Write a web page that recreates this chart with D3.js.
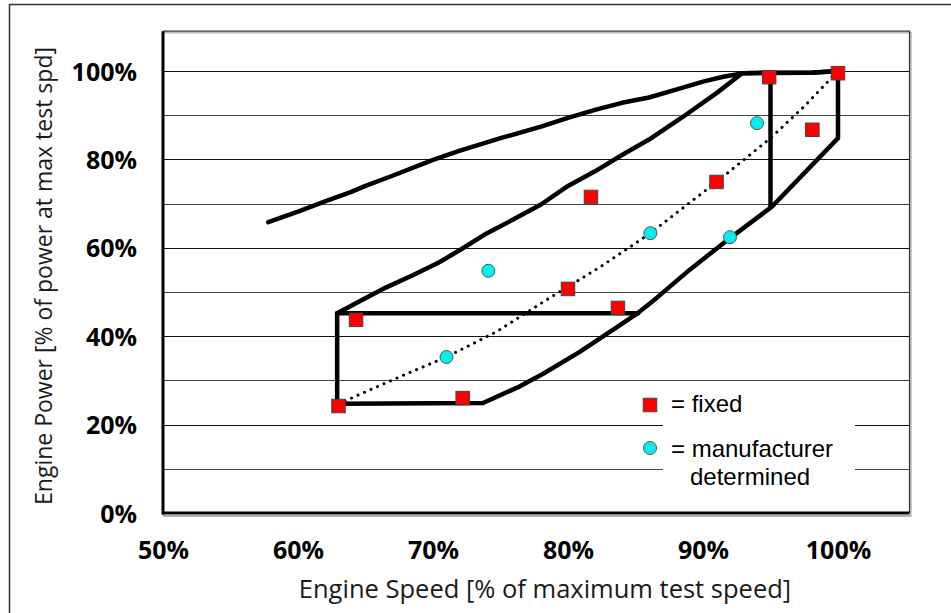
<!DOCTYPE html>
<html>
<head>
<meta charset="utf-8">
<script src="https://cdn.jsdelivr.net/npm/d3@7"></script>
<style>
  html, body { margin: 0; padding: 0; background: #fff; }
  svg { display: block; }
</style>
</head>
<body>
<svg id="chart" width="951" height="613"></svg>
<script>
// values in percent
const fixedSpeed = [63.0, 64.3, 72.2, 80.0, 81.7, 83.7, 91.0, 94.9, 98.1, 100.0]
const fixedPower = [24.2, 43.7, 26.0, 50.7, 71.5, 46.4, 74.9, 98.6, 86.7, 99.5]

const mfrSpeed = [71.0, 74.1, 86.1, 92.0, 94.0]
const mfrPower = [35.3, 54.8, 63.3, 62.4, 88.2]

// maximum power curve
const maxSpeed = [57.8, 60.1, 62.0, 63.9, 65.0, 67.0, 70.0, 72.0, 75.0, 78.0, 80.0, 82.0, 84.0, 86.0, 88.0, 90.0, 91.5, 93.0, 98.0, 100.0]
const maxPower = [65.8, 68.3, 70.5, 72.6, 74.0, 76.3, 79.9, 82.0, 84.8, 87.4, 89.4, 91.2, 92.8, 94.0, 95.8, 97.6, 98.7, 99.5, 99.6, 100.0]

// outline of the test region
const regionSpeed = [62.9, 62.9, 64.5, 66.5, 68.5, 70.5, 72.0, 74.0, 76.0, 78.0, 80.0, 82.0, 84.0, 86.0, 88.5, 91.0, 92.9, 95.0, 98.0, 100.0,
  100.0, 95.1, 92.0, 89.0, 86.5, 85.2, 83.6, 80.9, 78.1, 76.4, 73.7, 62.9]
const regionPower = [24.7, 45.2, 47.8, 51.0, 53.8, 56.8, 59.5, 63.3, 66.5, 69.8, 74.0, 77.3, 81.0, 84.5, 89.6, 95.0, 99.5, 99.6, 99.6, 100.0,
  84.8, 69.3, 62.2, 55.0, 48.5, 45.3, 42.0, 36.5, 31.4, 28.6, 24.9, 24.7]

// inner split lines of the region
const splitH = { speed: [62.9, 85.2], power: [45.2, 45.2] }
const splitV = { speed: [95.0, 95.0], power: [99.6, 69.3] }

// dotted centre line
const diagSpeed = [63.0, 64.1, 67.3, 71.0, 74.7, 78.4, 82.4, 84.6, 86.1, 88.0, 91.0, 95.0, 97.5, 100.0]
const diagPower = [24.7, 26.2, 30.5, 35.3, 41.0, 48.2, 55.7, 60.2, 63.3, 67.8, 74.9, 84.8, 92.0, 100.0]

const xTicks = [50, 60, 70, 80, 90, 100]
const yTicks = [0, 20, 40, 60, 80, 100]
const gridTicks = [10, 20, 30, 40, 50, 60, 70, 80, 90, 100]

const legendItems = ['= fixed', '= manufacturer']

/****************************************************************
    Layout
/****************************************************************/
const svg = d3.select('#chart')

const x = d3.scaleLinear().domain([50, 100]).range([163, 838])
const y = d3.scaleLinear().domain([0, 100]).range([513, 71])

const plotLeft = x(50)
const plotRight = x(105.3)
const plotTop = y(109)
const plotBottom = y(0)

const pct = d => d + '%'
const tickFont = '"Open Sans", "DejaVu Sans", sans-serif'
const titleFont = '"Open Sans", "DejaVu Sans", sans-serif'
const legendFont = '"Liberation Sans", Arial, sans-serif'

// outer frame of the figure
svg.append('rect')
  .attr('x', 9.5).attr('y', 4.5)
  .attr('width', 1000).attr('height', 1000)
  .attr('fill', 'none').attr('stroke', '#333').attr('stroke-width', 1.5)

// plot border (top / right) with light shadow
svg.append('path')
  .attr('d', `M${plotLeft},${plotTop + 1.5}H${plotRight + 1.5}V${plotBottom + 3}`)
  .attr('fill', 'none').attr('stroke', '#bbb').attr('stroke-width', 1.5)
svg.append('path')
  .attr('d', `M${plotLeft},${plotTop}H${plotRight}V${plotBottom}`)
  .attr('fill', 'none').attr('stroke', '#333').attr('stroke-width', 1.3)

// horizontal gridlines
svg.append('g')
  .selectAll('line')
  .data(gridTicks)
  .join('line')
  .attr('x1', plotLeft).attr('x2', plotRight)
  .attr('y1', d => Math.round(y(d)) + 0.5).attr('y2', d => Math.round(y(d)) + 0.5)
  .attr('stroke', (d, i) => i % 2 ? '#111' : '#444')
  .attr('stroke-width', 1.2)

// white box behind the legend text
svg.append('rect')
  .attr('x', 663).attr('y', 390)
  .attr('width', 192).attr('height', 108)
  .attr('fill', '#fff')

// y axis
const yAxis = svg.append('g')
  .attr('transform', `translate(${plotLeft},0)`)
  .call(d3.axisLeft(y).tickValues(yTicks).tickFormat(pct).tickSize(0).tickPadding(26))
yAxis.select('.domain').remove()
yAxis.selectAll('text')
  .attr('dy', '0.36em')
  .style('font-family', tickFont).style('font-weight', 700).style('font-size', '25px')
  .attr('fill', '#000')

// x axis
const xAxis = svg.append('g')
  .attr('transform', `translate(0,${plotBottom})`)
  .call(d3.axisBottom(x).tickValues(xTicks).tickFormat(pct).tickSize(0).tickPadding(28))
xAxis.select('.domain').remove()
xAxis.selectAll('text')
  .style('font-family', tickFont).style('font-weight', 700).style('font-size', '25px')
  .attr('fill', '#000')

// axis lines
svg.append('line')
  .attr('x1', plotLeft).attr('x2', plotRight + 1.5)
  .attr('y1', plotBottom + 3).attr('y2', plotBottom + 3)
  .attr('stroke', '#999').attr('stroke-width', 1.5)
svg.append('line')
  .attr('x1', plotLeft - 1).attr('x2', plotRight)
  .attr('y1', plotBottom).attr('y2', plotBottom)
  .attr('stroke', '#000').attr('stroke-width', 3)
svg.append('line')
  .attr('x1', plotLeft).attr('x2', plotLeft)
  .attr('y1', plotTop).attr('y2', plotBottom + 1.5)
  .attr('stroke', '#000').attr('stroke-width', 3)

// axis titles
svg.append('text')
  .attr('x', 545).attr('y', 598)
  .attr('text-anchor', 'middle')
  .style('font-family', titleFont).style('font-weight', 400).style('font-size', '25.5px')
  .attr('fill', '#1a1a1a')
  .text('Engine Speed [% of maximum test speed]')

svg.append('text')
  .attr('transform', 'translate(52,276) rotate(-90)')
  .attr('text-anchor', 'middle')
  .style('font-family', titleFont).style('font-weight', 400).style('font-size', '23px')
  .attr('fill', '#1a1a1a')
  .text('Engine Power [% of power at max test spd]')

/****************************************************************
    Lines
/****************************************************************/
const line = d3.line().x(d => x(d[0])).y(d => y(d[1]))
const zipPts = (a, b) => a.map((v, i) => [v, b[i]])

const lines = svg.append('g')
  .attr('fill', 'none')
  .attr('stroke', '#000')
  .attr('stroke-linejoin', 'round')
  .attr('stroke-linecap', 'round')

lines.append('path')
  .attr('d', line(zipPts(diagSpeed, diagPower)))
  .attr('stroke-width', 3)
  .attr('stroke-dasharray', '0.1 7')

lines.append('path')
  .attr('d', line(zipPts(maxSpeed, maxPower)))
  .attr('stroke-width', 4.5)

lines.append('path')
  .attr('d', line(zipPts(regionSpeed, regionPower)))
  .attr('stroke-width', 4.5)

lines.append('path')
  .attr('d', line(zipPts(splitH.speed, splitH.power)))
  .attr('stroke-width', 4.5)

lines.append('path')
  .attr('d', line(zipPts(splitV.speed, splitV.power)))
  .attr('stroke-width', 4.5)

/****************************************************************
    Markers
/****************************************************************/
const sq = 13.5

svg.append('g')
  .selectAll('rect')
  .data(zipPts(fixedSpeed, fixedPower))
  .join('rect')
  .attr('x', d => x(d[0]) - sq / 2)
  .attr('y', d => y(d[1]) - sq / 2)
  .attr('width', sq).attr('height', sq)
  .attr('fill', '#ff0000').attr('stroke', '#444').attr('stroke-width', 1)

svg.append('g')
  .selectAll('circle')
  .data(zipPts(mfrSpeed, mfrPower))
  .join('circle')
  .attr('cx', d => x(d[0]))
  .attr('cy', d => y(d[1]))
  .attr('r', 6.5)
  .attr('fill', '#00f0f0').attr('stroke', '#555').attr('stroke-width', 1)

/****************************************************************
    Legend
/****************************************************************/
const legend = svg.append('g')

legend.append('rect')
  .attr('x', 650 - sq / 2).attr('y', 405 - sq / 2)
  .attr('width', sq).attr('height', sq)
  .attr('fill', '#ff0000').attr('stroke', '#444').attr('stroke-width', 1)

legend.append('circle')
  .attr('cx', 650).attr('cy', 448).attr('r', 6.5)
  .attr('fill', '#00f0f0').attr('stroke', '#555').attr('stroke-width', 1)

legend.selectAll('text.item')
  .data(legendItems)
  .join('text')
  .attr('class', 'item')
  .attr('x', 671)
  .attr('y', (d, i) => 412 + i * 45)
  .style('font-family', legendFont).style('font-size', '24px')
  .attr('fill', '#000')
  .text(d => d)

legend.append('text')
  .attr('x', 690).attr('y', 485)
  .style('font-family', legendFont).style('font-size', '24px')
  .attr('fill', '#000')
  .text('determined')
</script>
</body>
</html>
